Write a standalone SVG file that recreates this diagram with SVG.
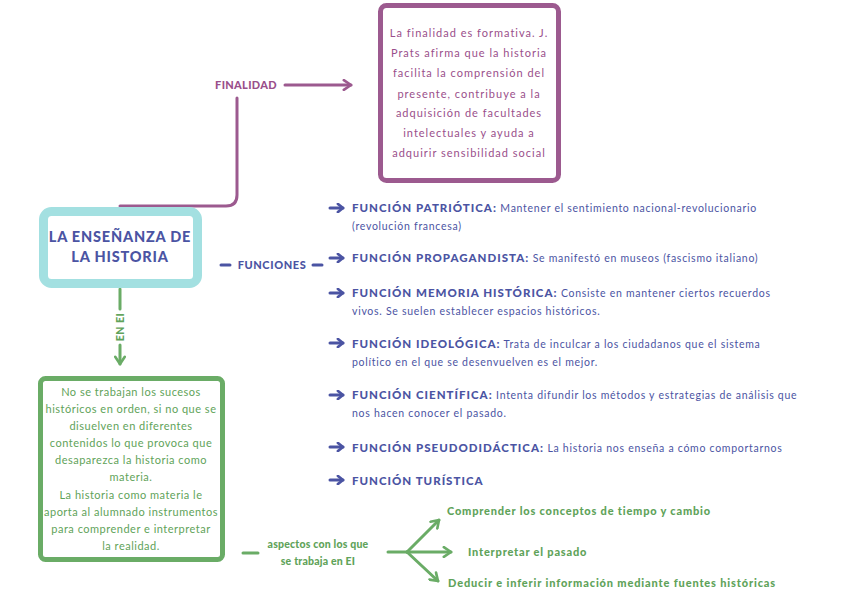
<svg xmlns="http://www.w3.org/2000/svg" width="848" height="599" viewBox="0 0 848 599">
<defs>
<style>
.hand{font-family:"Lato","Liberation Sans",sans-serif;font-size:11px;}
.head{font-family:"Lato","Liberation Sans",sans-serif;font-weight:900;}
.blue{fill:#4b54a3;}
.purp{fill:#9a4f8b;}
.grn{fill:#5fa35a;}
.pl{stroke:#9c5a8f;stroke-width:3;fill:none;stroke-linecap:round;}
.bl{stroke:#4b54a3;stroke-width:3;fill:none;stroke-linecap:round;stroke-linejoin:round;}
.gl{stroke:#6aac66;stroke-width:3;fill:none;stroke-linecap:round;stroke-linejoin:round;}
.fh{font-size:11.5px;letter-spacing:1px;}
.fb{font-size:10.5px;letter-spacing:0.72px;}
</style>
<marker id="ap" viewBox="0 0 10 10" refX="8" refY="5" markerWidth="4" markerHeight="4" orient="auto" markerUnits="strokeWidth">
<path d="M2,1 L8,5 L2,9" fill="none" stroke="#9c5a8f" stroke-width="2.2" stroke-linecap="round" stroke-linejoin="round"/>
</marker>
<marker id="ag" viewBox="0 0 10 10" refX="8" refY="5" markerWidth="4" markerHeight="4" orient="auto" markerUnits="strokeWidth">
<path d="M2,1 L8,5 L2,9" fill="none" stroke="#6aac66" stroke-width="2.2" stroke-linecap="round" stroke-linejoin="round"/>
</marker>
<marker id="ab" viewBox="0 0 10 10" refX="8" refY="5" markerWidth="3.4" markerHeight="3.4" orient="auto" markerUnits="strokeWidth">
<path d="M3,1 L8,5 L3,9" fill="none" stroke="#4b54a3" stroke-width="2.6" stroke-linecap="round" stroke-linejoin="round"/>
</marker>
</defs>
<rect width="848" height="599" fill="#ffffff"/>

<g id="connectors">
<line class="pl" x1="285" y1="85" x2="351" y2="85" marker-end="url(#ap)"/>
<path class="pl" d="M120,206 H226 Q237,206 237,195 V98"/>
<line class="gl" x1="120" y1="289" x2="120" y2="309"/>
<line class="gl" x1="120" y1="345" x2="120" y2="364" marker-end="url(#ag)"/>
<line class="bl" x1="221" y1="265" x2="230" y2="265" stroke-width="2"/>
<line class="bl" x1="313" y1="265" x2="322" y2="265" stroke-width="2"/>
<line class="bl" x1="330" y1="208" x2="343" y2="208" marker-end="url(#ab)"/>
<line class="bl" x1="330" y1="258" x2="343" y2="258" marker-end="url(#ab)"/>
<line class="bl" x1="330" y1="293" x2="343" y2="293" marker-end="url(#ab)"/>
<line class="bl" x1="330" y1="343" x2="343" y2="343" marker-end="url(#ab)"/>
<line class="bl" x1="330" y1="395" x2="343" y2="395" marker-end="url(#ab)"/>
<line class="bl" x1="330" y1="447" x2="343" y2="447" marker-end="url(#ab)"/>
<line class="bl" x1="330" y1="480" x2="343" y2="480" marker-end="url(#ab)"/>
<line class="gl" x1="243" y1="553" x2="258" y2="553"/>
<line class="gl" x1="388" y1="552" x2="407" y2="552"/>
<line class="gl" x1="407" y1="552" x2="439" y2="520" marker-end="url(#ag)"/>
<line class="gl" x1="407" y1="552" x2="451" y2="552" marker-end="url(#ag)"/>
<line class="gl" x1="407" y1="552" x2="438" y2="581" marker-end="url(#ag)"/>
</g>

<g id="finalidad-label">
<text class="head purp" x="246" y="89" font-size="11" letter-spacing="0.3" text-anchor="middle">FINALIDAD</text>
</g>

<g id="finalidad-box">
<rect x="380.5" y="5.5" width="178" height="175" rx="6" fill="#ffffff" stroke="#9c5a8f" stroke-width="5"/>
<g class="hand purp" font-size="12.5" letter-spacing="1" text-anchor="middle">
<text x="469" y="37">La finalidad es formativa. J.</text>
<text x="469" y="57">Prats afirma que la historia</text>
<text x="469" y="77">facilita la comprensión del</text>
<text x="469" y="98">presente, contribuye a la</text>
<text x="469" y="117">adquisición de facultades</text>
<text x="469" y="137">intelectuales y ayuda a</text>
<text x="469" y="157">adquirir sensibilidad social</text>
</g>
</g>

<g id="ensenanza">
<rect x="43.5" y="211.5" width="154" height="72" rx="8" fill="#ffffff" stroke="#a3e0e1" stroke-width="9"/>
<text class="head blue" x="120" y="242" font-size="14.5" letter-spacing="0.8" text-anchor="middle">LA ENSEÑANZA DE</text>
<text class="head blue" x="120" y="262" font-size="14.5" letter-spacing="0.8" text-anchor="middle">LA HISTORIA</text>
</g>

<g id="funciones-label">
<text class="head blue" x="272" y="269" font-size="11" letter-spacing="0.6" text-anchor="middle">FUNCIONES</text>
</g>

<g id="en-ei-label">
<text class="head grn" x="0" y="0" font-size="10.5" letter-spacing="0.5" text-anchor="middle" transform="translate(124,327) rotate(-90)">EN EI</text>
</g>

<g id="f-patriotica">
<text class="blue" x="352" y="212"><tspan class="head fh">FUNCIÓN PATRIÓTICA:</tspan><tspan class="hand fb"> Mantener el sentimiento nacional-revolucionario</tspan></text>
<text class="hand fb blue" x="352" y="230">(revolución francesa)</text>
</g>

<g id="f-propagandista">
<text class="blue" x="352" y="262"><tspan class="head fh">FUNCIÓN PROPAGANDISTA:</tspan><tspan class="hand fb"> Se manifestó en museos (fascismo italiano)</tspan></text>
</g>

<g id="f-memoria">
<text class="blue" x="352" y="297"><tspan class="head fh">FUNCIÓN MEMORIA HISTÓRICA:</tspan><tspan class="hand fb"> Consiste en mantener ciertos recuerdos</tspan></text>
<text class="hand fb blue" x="352" y="315">vivos. Se suelen establecer espacios históricos.</text>
</g>

<g id="f-ideologica">
<text class="blue" x="352" y="348"><tspan class="head fh">FUNCIÓN IDEOLÓGICA:</tspan><tspan class="hand fb"> Trata de inculcar a los ciudadanos que el sistema</tspan></text>
<text class="hand fb blue" x="352" y="366">político en el que se desenvuelven es el mejor.</text>
</g>

<g id="f-cientifica">
<text class="blue" x="352" y="399"><tspan class="head fh">FUNCIÓN CIENTÍFICA:</tspan><tspan class="hand fb"> Intenta difundir los métodos y estrategias de análisis que</tspan></text>
<text class="hand fb blue" x="352" y="417">nos hacen conocer el pasado.</text>
</g>

<g id="f-pseudodidactica">
<text class="blue" x="352" y="452"><tspan class="head fh">FUNCIÓN PSEUDODIDÁCTICA:</tspan><tspan class="hand fb"> La historia nos enseña a cómo comportarnos</tspan></text>
</g>

<g id="f-turistica">
<text class="head fh blue" x="352" y="485">FUNCIÓN TURÍSTICA</text>
</g>

<g id="ei-box">
<rect x="40.5" y="378.5" width="182" height="181" rx="5" fill="#ffffff" stroke="#6aac66" stroke-width="5"/>
<g class="hand grn" font-size="10.5" letter-spacing="0.5" text-anchor="middle">
<text x="131" y="396">No se trabajan los sucesos</text>
<text x="131" y="413">históricos en orden, si no que se</text>
<text x="131" y="430">disuelven en diferentes</text>
<text x="131" y="447">contenidos lo que provoca que</text>
<text x="131" y="464">desaparezca la historia como</text>
<text x="131" y="481">materia.</text>
<text x="131" y="499">La historia como materia le</text>
<text x="131" y="516">aporta al alumnado instrumentos</text>
<text x="131" y="533">para comprender e interpretar</text>
<text x="131" y="550">la realidad.</text>
</g>
</g>

<g id="aspectos-label">
<text class="head grn" x="318" y="548" font-size="10.5" letter-spacing="0.2" text-anchor="middle" font-weight="700">aspectos con los que</text>
<text class="head grn" x="318" y="565" font-size="10.5" letter-spacing="0.2" text-anchor="middle" font-weight="700">se trabaja en EI</text>
</g>

<g id="a-comprender">
<text class="head grn" x="447" y="515" font-size="11" letter-spacing="0.8" font-weight="700">Comprender los conceptos de tiempo y cambio</text>
</g>
<g id="a-interpretar">
<text class="head grn" x="468" y="556" font-size="11" letter-spacing="0.8" font-weight="700">Interpretar el pasado</text>
</g>
<g id="a-deducir">
<text class="head grn" x="448" y="587" font-size="11" letter-spacing="0.85" font-weight="700">Deducir e inferir información mediante fuentes históricas</text>
</g>
</svg>
